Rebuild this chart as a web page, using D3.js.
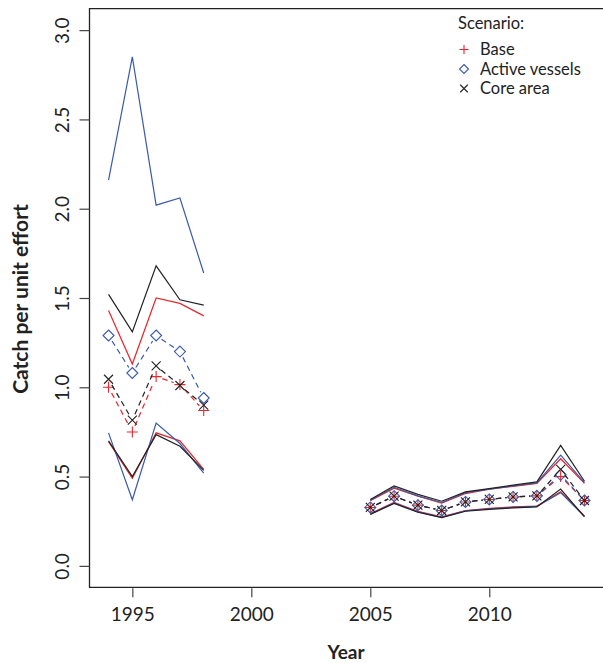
<!DOCTYPE html>
<html>
<head>
<meta charset="utf-8">
<script src="https://cdn.jsdelivr.net/npm/d3@7/dist/d3.min.js"></script>
<style>
  html, body { margin: 0; padding: 0; background: #fff; }
  svg { display: block; }
  text { font-family: Lato, "Open Sans", sans-serif; fill: #222; }
</style>
</head>
<body>
<svg id="chart" width="603" height="663"></svg>
<script>
// Survey years, split into the two sampling periods
const yearsEarly = [1994, 1995, 1996, 1997, 1998];
const yearsLate = [2005, 2006, 2007, 2008, 2009, 2010, 2011, 2012, 2013, 2014];

// Base scenario: estimate with upper and lower bounds
const baseEarly      = [1.00, 0.75, 1.06, 1.015, 0.87];
const baseEarlyUpper = [1.43, 1.13, 1.50, 1.47, 1.40];
const baseEarlyLower = [0.695, 0.49, 0.745, 0.70, 0.54];
const baseLate       = [0.327, 0.39, 0.34, 0.31, 0.358, 0.372, 0.386, 0.392, 0.50, 0.366];
const baseLateUpper  = [0.365, 0.435, 0.39, 0.352, 0.405, 0.43, 0.445, 0.462, 0.60, 0.462];
const baseLateLower  = [0.293, 0.355, 0.305, 0.275, 0.31, 0.322, 0.33, 0.335, 0.415, 0.28];

// Active vessels scenario
const activeEarly      = [1.29, 1.08, 1.29, 1.20, 0.94];
const activeEarlyUpper = [2.16, 2.85, 2.02, 2.06, 1.64];
const activeEarlyLower = [0.745, 0.37, 0.80, 0.685, 0.52];
const activeLate       = [0.327, 0.39, 0.34, 0.31, 0.358, 0.372, 0.386, 0.392, 0.51, 0.366];
const activeLateUpper  = [0.368, 0.44, 0.392, 0.355, 0.41, 0.43, 0.448, 0.465, 0.62, 0.466];
const activeLateLower  = [0.29, 0.352, 0.302, 0.272, 0.308, 0.32, 0.328, 0.333, 0.41, 0.277];

// Core area scenario
const coreEarly      = [1.045, 0.816, 1.12, 1.01, 0.90];
const coreEarlyUpper = [1.52, 1.31, 1.68, 1.49, 1.46];
const coreEarlyLower = [0.70, 0.50, 0.735, 0.67, 0.535];
const coreLate       = [0.327, 0.39, 0.34, 0.31, 0.358, 0.372, 0.386, 0.392, 0.54, 0.366];
const coreLateUpper  = [0.372, 0.448, 0.40, 0.362, 0.414, 0.433, 0.452, 0.47, 0.675, 0.474];
const coreLateLower  = [0.288, 0.35, 0.30, 0.27, 0.306, 0.316, 0.325, 0.33, 0.43, 0.274];

// Axis ticks and legend labels
const xTicks = [1995, 2000, 2005, 2010];
const yTicks = [0.0, 0.5, 1.0, 1.5, 2.0, 2.5, 3.0];
const scenarioNames = ["Base", "Active vessels", "Core area"];

const colors = { base: "#e8262c", active: "#3a5aa8", core: "#222222" };

const scenarios = [
  { key: "base", name: scenarioNames[0], symbol: "plus",
    periods: [
      { years: yearsEarly, mid: baseEarly, upper: baseEarlyUpper, lower: baseEarlyLower },
      { years: yearsLate, mid: baseLate, upper: baseLateUpper, lower: baseLateLower } ] },
  { key: "active", name: scenarioNames[1], symbol: "diamond",
    periods: [
      { years: yearsEarly, mid: activeEarly, upper: activeEarlyUpper, lower: activeEarlyLower },
      { years: yearsLate, mid: activeLate, upper: activeLateUpper, lower: activeLateLower } ] },
  { key: "core", name: scenarioNames[2], symbol: "cross",
    periods: [
      { years: yearsEarly, mid: coreEarly, upper: coreEarlyUpper, lower: coreEarlyLower },
      { years: yearsLate, mid: coreLate, upper: coreLateUpper, lower: coreLateLower } ] }
];

const svg = d3.select("#chart");
const plot = { left: 89.5, right: 603.5, top: 8.7, bottom: 587.3 };

const x = d3.scaleLinear().domain([1993.2, 2014.8]).range([plot.left, plot.right]);
const y = d3.scaleLinear().domain([-0.12, 3.12]).range([plot.bottom, plot.top]);

// Marker shapes
function symbolPath(type, r) {
  if (type === "plus") return `M${-r},0H${r}M0,${-r}V${r}`;
  if (type === "diamond") return `M0,${-r}L${r},0L0,${r}L${-r},0Z`;
  const s = r * 0.75;
  return `M${-s},${-s}L${s},${s}M${-s},${s}L${s},${-s}`;
}

const line = d3.line().x(d => x(d[0])).y(d => y(d[1]));

// Data layer
const g = svg.append("g");

scenarios.forEach(sc => {
  const col = colors[sc.key];
  sc.periods.forEach(p => {
    // Bounds as thin solid lines
    [p.upper, p.lower].forEach(vals => {
      g.append("path")
        .datum(p.years.map((yr, i) => [yr, vals[i]]))
        .attr("d", line)
        .attr("fill", "none")
        .attr("stroke", col)
        .attr("stroke-width", 1.2);
    });
    // Estimate: dashed segments that stop short of each marker
    const pts = p.years.map((yr, i) => [x(yr), y(p.mid[i])]);
    const gap = 6.5;
    for (let i = 0; i < pts.length - 1; i++) {
      const [x0, y0] = pts[i], [x1, y1] = pts[i + 1];
      const len = Math.hypot(x1 - x0, y1 - y0);
      if (len <= 2 * gap) continue;
      const ux = (x1 - x0) / len, uy = (y1 - y0) / len;
      g.append("line")
        .attr("x1", x0 + ux * gap).attr("y1", y0 + uy * gap)
        .attr("x2", x1 - ux * gap).attr("y2", y1 - uy * gap)
        .attr("stroke", col)
        .attr("stroke-width", 1.2)
        .attr("stroke-dasharray", "5.5,4");
    }
    g.selectAll(null)
      .data(p.years.map((yr, i) => [yr, p.mid[i]]))
      .join("path")
      .attr("transform", d => `translate(${x(d[0])},${y(d[1])})`)
      .attr("d", symbolPath(sc.symbol, sc.symbol === "cross" ? 6 : 5.5))
      .attr("fill", "none")
      .attr("stroke", col)
      .attr("stroke-width", 1.1);
  });
});

// Frame: left, top and bottom sides; the right side falls past the window
svg.append("path")
  .attr("d", `M${plot.right + 2},${plot.top}H${plot.left}V${plot.bottom}H${plot.right + 2}`)
  .attr("fill", "none").attr("stroke", "#222").attr("stroke-width", 1.3);

// Axes
const xAxis = d3.axisBottom(x).tickValues(xTicks).tickSize(9).tickPadding(10).tickFormat(d3.format("d"));
const xg = svg.append("g").attr("transform", `translate(0,${plot.bottom + 1})`).call(xAxis);
xg.select(".domain").remove();
xg.selectAll(".tick line").attr("stroke", "#444").attr("stroke-width", 1.2);
xg.selectAll(".tick text").attr("font-size", 19).attr("fill", "#222")
  .style("font-family", "Lato, sans-serif");

const yAxis = d3.axisLeft(y).tickValues(yTicks).tickSize(10).tickPadding(0).tickFormat(d3.format(".1f"));
const yg = svg.append("g").attr("transform", `translate(${plot.left},0)`).call(yAxis);
yg.select(".domain").remove();
yg.selectAll(".tick line").attr("stroke", "#444").attr("stroke-width", 1.2);
yg.selectAll(".tick text").remove();
yg.selectAll(".tick").append("text")
  .attr("transform", "translate(-27,0) rotate(-90)")
  .attr("text-anchor", "middle")
  .attr("dy", "0.35em")
  .attr("font-size", 19)
  .attr("fill", "#222")
  .style("font-family", "Lato, sans-serif")
  .text(d => d3.format(".1f")(d));

// Axis titles
svg.append("text")
  .attr("x", 346).attr("y", 659)
  .attr("text-anchor", "middle")
  .attr("font-size", 19).attr("font-weight", "bold")
  .text("Year");
svg.append("text")
  .attr("transform", "translate(28,299) rotate(-90)")
  .attr("text-anchor", "middle")
  .attr("font-size", 21).attr("font-weight", "bold")
  .text("Catch per unit effort");

// Legend
const lg = svg.append("g").attr("transform", "translate(458,0)");
lg.append("text").attr("x", 0).attr("y", 29).attr("font-size", 16.5).text("Scenario:");
scenarios.forEach((sc, i) => {
  const yy = 49.5 + i * 19.5;
  lg.append("path")
    .attr("transform", `translate(6,${yy})`)
    .attr("d", symbolPath(sc.symbol, sc.symbol === "cross" ? 5 : 4.5))
    .attr("fill", "none").attr("stroke", colors[sc.key]).attr("stroke-width", 1.1);
  lg.append("text").attr("x", 22).attr("y", yy + 5.5).attr("font-size", 16.5).text(sc.name);
});
</script>
</body>
</html>
